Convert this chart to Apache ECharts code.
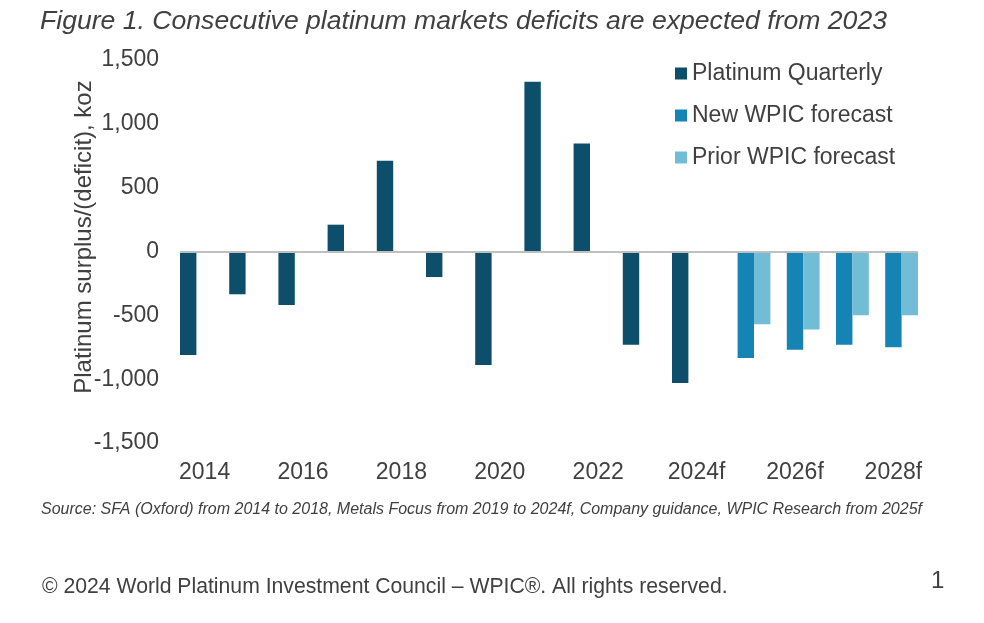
<!DOCTYPE html>
<html>
<head>
<meta charset="utf-8">
<script src="https://cdn.jsdelivr.net/npm/echarts@6/dist/echarts.min.js"></script>
<style>
  html, body { margin: 0; padding: 0; background: #ffffff; }
  #chart { width: 984px; height: 623px; }
</style>
</head>
<body>
<div id="chart"></div>
<script>
var categories = ['2014','2015','2016','2017','2018','2019','2020','2021','2022','2023','2024f','2025f','2026f','2027f','2028f'];
var platinumQuarterly = [-810, -335, -420, 210, 710, -200, -890, 1330, 845, -730, -1030, null, null, null, null];
var newWpicForecast = [null, null, null, null, null, null, null, null, null, null, null, -835, -770, -730, -750];
var priorWpicForecast = [null, null, null, null, null, null, null, null, null, null, null, -570, -610, -500, -500];
var seriesNames = ['Platinum Quarterly', 'New WPIC forecast', 'Prior WPIC forecast'];
var yTicks = { min: -1500, max: 1500, step: 500 };

var FONT = "'Liberation Sans', Arial, Helvetica, sans-serif";
var TEXT = '#404040';

function fmt(v) {
  var s = Math.abs(v).toString().replace(/\B(?=(\d{3})+(?!\d))/g, ',');
  return (v < 0 ? '-' : '') + s;
}

var chart = echarts.init(document.getElementById('chart'), null, { renderer: 'canvas' });
chart.setOption({
  backgroundColor: '#ffffff',
  animation: false,
  textStyle: { fontFamily: FONT, color: TEXT },
  grid: { left: 180, right: 66, top: 60, bottom: 180, containLabel: false },
  legend: {
    orient: 'vertical',
    left: 675,
    top: 62,
    padding: 0,
    itemWidth: 12,
    itemHeight: 12,
    itemGap: 19,
    icon: 'rect',
    textStyle: { fontFamily: FONT, fontSize: 23, color: TEXT },
    data: seriesNames
  },
  xAxis: {
    type: 'category',
    data: categories,
    axisLine: { show: false },
    axisTick: { show: false },
    splitLine: { show: false },
    axisLabel: { interval: 1, fontSize: 23, color: TEXT, fontFamily: FONT, margin: 18 }
  },
  yAxis: {
    type: 'value',
    min: yTicks.min,
    max: yTicks.max,
    interval: yTicks.step,
    axisLine: { show: false },
    axisTick: { show: false },
    splitLine: { show: false },
    axisLabel: { fontSize: 23, color: TEXT, fontFamily: FONT, margin: 21, formatter: fmt }
  },
  series: [
    {
      name: seriesNames[0], type: 'bar', data: platinumQuarterly,
      itemStyle: { color: '#0d4f6b' },
      barGap: '0%', barCategoryGap: '0%',
      markLine: {
        silent: true, symbol: 'none', label: { show: false },
        lineStyle: { color: '#bfbfbf', width: 2, type: 'solid' },
        data: [{ yAxis: 0 }]
      }
    },
    {
      name: seriesNames[1], type: 'bar', data: newWpicForecast,
      itemStyle: { color: '#1683b5' },
      barGap: '0%', barCategoryGap: '0%'
    },
    {
      name: seriesNames[2], type: 'bar', data: priorWpicForecast,
      itemStyle: { color: '#72bdd6' },
      barGap: '0%', barCategoryGap: '0%'
    }
  ],
  graphic: [
    {
      type: 'text', left: 40, top: 8,
      style: { text: 'Figure 1. Consecutive platinum markets deficits are expected from 2023', font: 'italic 26.6px ' + FONT, fill: TEXT }
    },
    {
      type: 'text', x: 84, y: 237, rotation: Math.PI / 2,
      style: { text: 'Platinum surplus/(deficit), koz', font: '24px ' + FONT, fill: TEXT, textAlign: 'center', textVerticalAlign: 'middle' }
    },
    {
      type: 'text', left: 41, top: 502,
      style: { text: 'Source: SFA (Oxford) from 2014 to 2018, Metals Focus from 2019 to 2024f, Company guidance, WPIC Research from 2025f', font: 'italic 16px ' + FONT, fill: TEXT }
    },
    {
      type: 'text', left: 42, top: 577,
      style: { text: '\u00A9 2024 World Platinum Investment Council \u2013 WPIC\u00AE. All rights reserved.', font: '21.2px ' + FONT, fill: TEXT }
    },
    {
      type: 'text', left: 931, top: 569,
      style: { text: '1', font: '24px ' + FONT, fill: TEXT }
    }
  ]
});
</script>
</body>
</html>
